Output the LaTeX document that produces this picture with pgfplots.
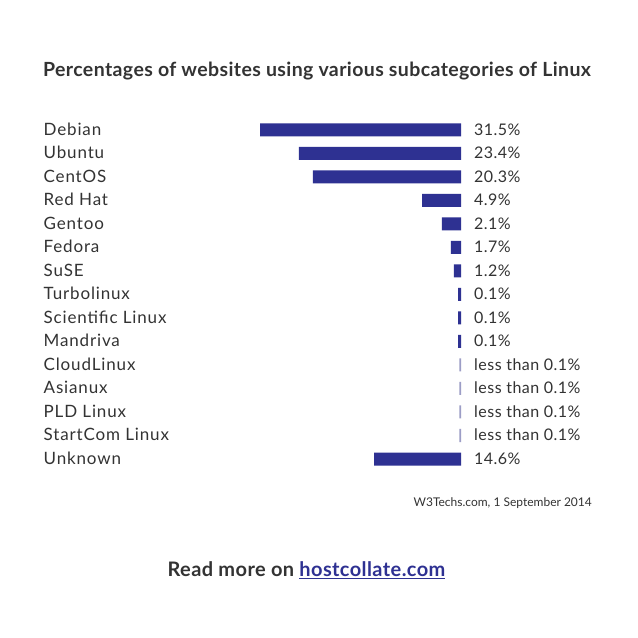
\documentclass[border=0pt]{standalone}
\usepackage{pgfplots}
\pgfplotsset{compat=1.18}
\usepackage{fontspec}
\setmainfont{Lato}
\definecolor{barblue}{HTML}{2E3192}
\definecolor{thinblue}{HTML}{9C9DC6}
\definecolor{txt}{HTML}{333333}
\newcommand{\namefont}{\fontsize{17bp}{20bp}\selectfont\addfontfeatures{LetterSpace=5}}
\newcommand{\valfont}{\fontsize{16bp}{19bp}\selectfont\addfontfeatures{LetterSpace=3}}
\begin{document}
\begin{tikzpicture}[x=1bp,y=1bp]
\fill[white] (0,0) rectangle (638,638);
\begin{axis}[
    at={(0,0)}, anchor=south west,
    scale only axis, width=638bp, height=638bp,
    xmin=-27.743, xmax=72.257, x dir=reverse,
    ymin=-5.532, ymax=21.617, y dir=reverse,
    hide axis, clip=false,
]
% bar lengths as drawn (percent scale, 6.38 px per unit)
\addplot[xbar, bar shift=0pt, bar width=13bp, fill=barblue, draw=none]
  coordinates {(31.5,0) (25.4,1) (23.2,2) (6.1,3) (3.0,4) (1.6,5) (1.1,6)
               (0.47,7) (0.47,8) (0.47,9) (13.6,14)};
\addplot[xbar, bar shift=0pt, bar width=13bp, fill=thinblue, draw=none]
  coordinates {(0.25,10) (0.25,11) (0.25,12) (0.25,13)};
% category names
\addplot[draw=none, mark=none, nodes near coords, point meta=explicit symbolic,
  nodes near coords style={anchor=base west, yshift=-5.5bp, inner sep=0pt, font=\namefont, text=txt}]
  coordinates {(65.44,0) [Debian] (65.44,1) [Ubuntu] (65.44,2) [CentOS]
    (65.44,3) [Red Hat] (65.44,4) [Gentoo] (65.44,5) [Fedora] (65.44,6) [SuSE]
    (65.44,7) [Turbolinux] (65.44,8) [Scientific Linux] (65.44,9) [Mandriva]
    (65.44,10) [CloudLinux] (65.44,11) [Asianux] (65.44,12) [PLD Linux]
    (65.44,13) [StartCom Linux] (65.44,14) [Unknown]};
% value labels
\addplot[draw=none, mark=none, nodes near coords, point meta=explicit symbolic,
  nodes near coords style={anchor=base west, yshift=-5.5bp, inner sep=0pt, font=\valfont, text=txt}]
  coordinates {(-2.04,0) [31.5\%] (-2.04,1) [23.4\%] (-2.04,2) [20.3\%]
    (-2.04,3) [4.9\%] (-2.04,4) [2.1\%] (-2.04,5) [1.7\%] (-2.04,6) [1.2\%]
    (-2.04,7) [0.1\%] (-2.04,8) [0.1\%] (-2.04,9) [0.1\%]
    (-2.04,10) [less than 0.1\%] (-2.04,11) [less than 0.1\%]
    (-2.04,12) [less than 0.1\%] (-2.04,13) [less than 0.1\%] (-2.04,14) [14.6\%]};
\end{axis}
\node[anchor=base west, inner sep=0pt, text=txt, font=\bfseries\fontsize{19.5bp}{22bp}\selectfont\addfontfeatures{LetterSpace=2}]
  at (43,561) {Percentages of websites using various subcategories of Linux};
\node[anchor=base east, inner sep=0pt, text=txt, font=\fontsize{12bp}{14bp}\selectfont]
  at (592,131) {W3Techs.com, 1 September 2014};
\node[anchor=base, inner sep=0pt, text=txt, font=\bfseries\fontsize{20bp}{23bp}\selectfont\addfontfeatures{LetterSpace=2}]
  at (306.5,61) {Read more on {\color{barblue}\underline{hostcollate.com}}};
\end{tikzpicture}
\end{document}
